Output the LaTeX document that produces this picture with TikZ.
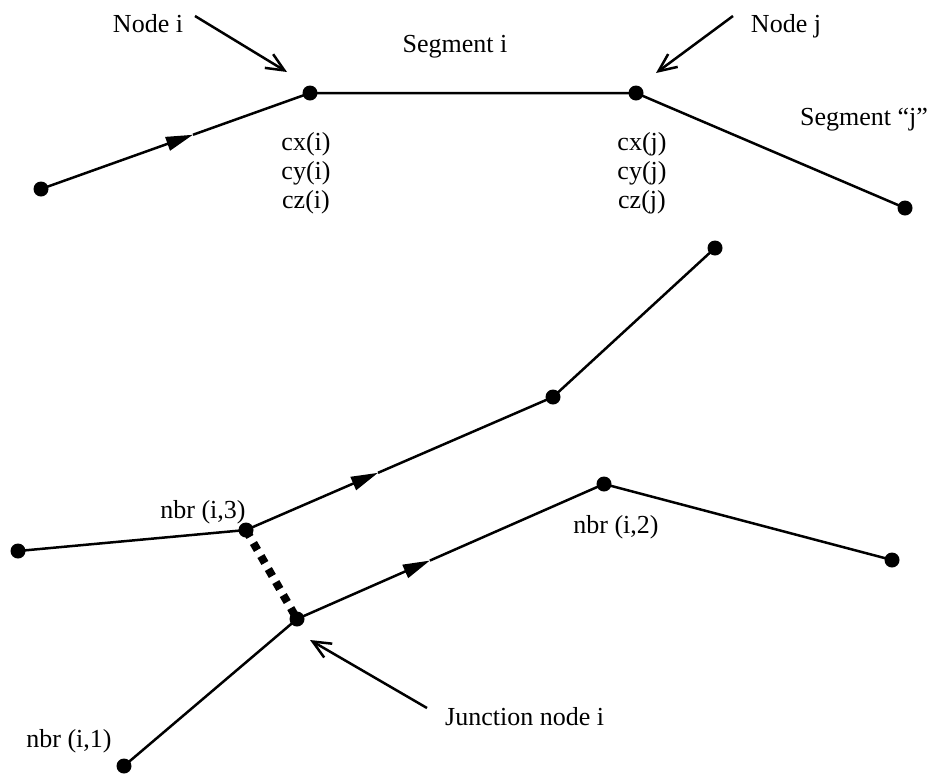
\documentclass[tikz,border=0pt]{standalone}
\usepackage{fontspec}
\setmainfont{Liberation Serif}
\usetikzlibrary{arrows.meta,calc}
\begin{document}
\begin{tikzpicture}[x=1pt,y=-1pt,
  seg/.style={line width=2.5pt},
  dotnode/.style={circle,fill=black,inner sep=0pt,minimum size=15pt},
  lbl/.style={font=\fontsize{26}{30}\selectfont, inner sep=0pt},
  midarrow/.style={line width=2.5pt,-{Triangle[length=27pt,width=14pt]}},
  pointer/.style={line width=2.5pt,-{Straight Barb[length=18pt,width=16pt,line width=2.5pt]}},
  dashlink/.style={line width=8pt,dash pattern=on 8pt off 7pt}
  ]
\useasboundingbox (0,0) rectangle (932,777);
% top points
\coordinate (A) at (41,189);
\coordinate (I) at (310,93);
\coordinate (J) at (636,93);
\coordinate (E) at (905,208);
\coordinate (m1) at ($(A)!0.565!(I)$);
% bottom points
\coordinate (U) at (715,248);
\coordinate (M) at (553,397);
\coordinate (N3) at (246,530);
\coordinate (L) at (18,551);
\coordinate (N2) at (604,484);
\coordinate (R) at (892,560);
\coordinate (Jn) at (297,619);
\coordinate (N1) at (124,766);
\coordinate (m2) at ($(N3)!0.43!(M)$);
\coordinate (m3) at ($(Jn)!0.433!(N2)$);
% pointer coordinates
\coordinate (pis) at (195,16);
\coordinate (pit) at (287,72);
\coordinate (pjs) at (733,16);
\coordinate (pjt) at (656,73);
\coordinate (pks) at (427,708);
\coordinate (pkt) at (310,640);

% segments
\draw[midarrow] (A) -- (m1);
\draw[seg] (m1) -- (I) -- (J) -- (E);
\draw[seg] (L) -- (N3);
\draw[midarrow] (N3) -- (m2);
\draw[seg] (m2) -- (M) -- (U);
\draw[seg] (N1) -- (Jn);
\draw[midarrow] (Jn) -- (m3);
\draw[seg] (m3) -- (N2) -- (R);
\draw[dashlink] (N3) -- (Jn);

% dots
\foreach \p in {A,I,J,E,U,M,N3,L,N2,R,Jn,N1}
  \node[dotnode] (d\p) at (\p) {};

% pointers
\draw[pointer] (pis) -- (pit);
\draw[pointer] (pjs) -- (pjt);
\draw[pointer] (pks) -- (pkt);

% labels
\node[lbl,anchor=base] (tni) at (148,32) {Node i};
\node[lbl,anchor=base] (tnj) at (786,32) {Node j};
\node[lbl,anchor=base] (tsi) at (455,52) {Segment i};
\node[lbl,anchor=base] (tsj) at (864,125) {Segment “j”};
\node[lbl,anchor=base] (cxi) at (306,150) {cx(i)};
\node[lbl,anchor=base] (cyi) at (306,179) {cy(i)};
\node[lbl,anchor=base] (czi) at (306,208) {cz(i)};
\node[lbl,anchor=base] (cxj) at (642,150) {cx(j)};
\node[lbl,anchor=base] (cyj) at (642,179) {cy(j)};
\node[lbl,anchor=base] (czj) at (642,208) {cz(j)};
\node[lbl,anchor=base] (nb3) at (203,518) {nbr (i,3)};
\node[lbl,anchor=base] (nb2) at (616,533) {nbr (i,2)};
\node[lbl,anchor=base] (nb1) at (69,747) {nbr (i,1)};
\node[lbl,anchor=base west] (tjn) at (445,725) {Junction node i};
\end{tikzpicture}
\end{document}
